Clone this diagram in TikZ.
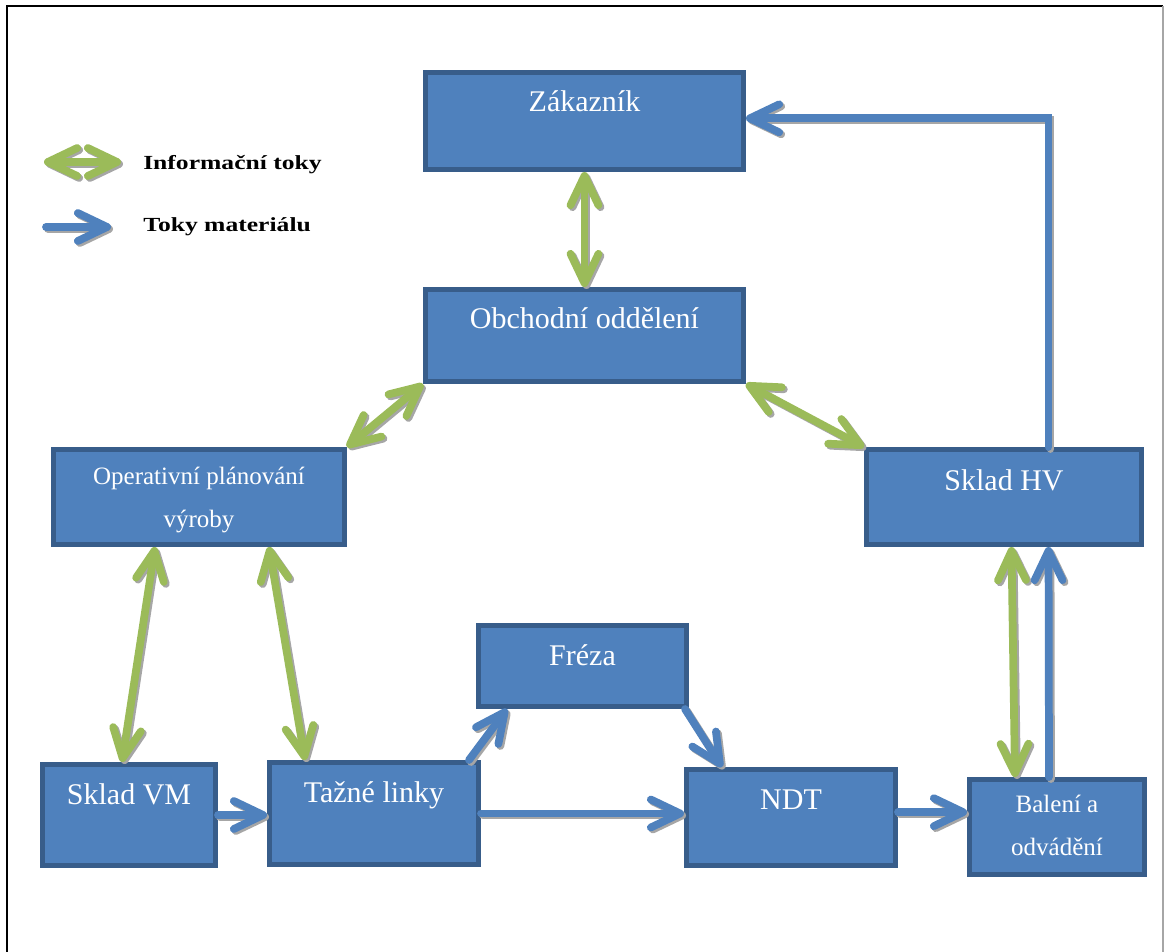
\documentclass[tikz,border=0pt]{standalone}
\usepackage{fontspec}
\setmainfont{Liberation Serif}
\usepackage{graphicx}
\usetikzlibrary{arrows.meta,fit}

\definecolor{boxblue}{HTML}{4F81BD}
\definecolor{boxedge}{HTML}{385D8A}
\definecolor{infogreen}{HTML}{9BBB59}
\definecolor{flowshade}{HTML}{A6A6A6}

\tikzset{
  >={Straight Barb[length=22pt, width=21pt, round]},
  unitbox/.style={rectangle, fill=boxblue, draw=boxedge, line width=3.6pt, inner sep=-1.8pt},
  boxlabel/.style={text=white, font=\fontsize{22.5pt}{32pt}\selectfont, inner sep=0pt, anchor=base, align=center},
  smalllabel/.style={boxlabel, font=\fontsize{18.75pt}{32pt}\selectfont},
  keytext/.style={text=black, font=\fontsize{15pt}{17pt}\selectfont\bfseries, inner sep=0pt, anchor=base west},
  flowline/.style={line width=5.8pt, line cap=round},
  info/.style={flowline, draw=infogreen, <->},
  material/.style={flowline, draw=boxblue, ->},
  shade copy/.style={draw=flowshade, transform canvas={shift={(2,2)}}},
}
% every flow is drawn twice: a grey drop shadow, then the coloured arrow
\newcommand\flowpath[2]{\draw[#1, shade copy] #2; \draw[#1] #2;}

\begin{document}
\begin{tikzpicture}[x=0.75pt, y=-0.75pt]
\useasboundingbox (0,0) rectangle (1164,952);

% page frame
\draw[black, line width=1.5pt] (7,952) -- (7,6) -- (1163,6);
\draw[flowshade, line width=1pt] (1163,6) -- (1163,952);

% units
\node[unitbox, fit={(423,70) (746,172)}]   (zak)   {};
\node[unitbox, fit={(423,287) (746,384)}]  (obch)  {};
\node[unitbox, fit={(51,447) (347,547)}]   (oper)  {};
\node[unitbox, fit={(864,447) (1144,547)}] (skhv)  {};
\node[unitbox, fit={(476,623) (689,709)}]  (freza) {};
\node[unitbox, fit={(40,762) (218,868)}]   (sklvm) {};
\node[unitbox, fit={(267,760) (481,867)}]  (tazne) {};
\node[unitbox, fit={(684,767) (898,868)}]  (ndt)   {};
\node[unitbox, fit={(967,777) (1147,877)}] (balen) {};

% unit captions (two-line captions sit on the baseline of their last line)
\node[boxlabel]   (zak-t)   at (584.5,112) {Zákazník};
\node[boxlabel]   (obch-t)  at (584.5,329) {Obchodní oddělení};
\node[smalllabel] (oper-t)  at (199,527)   {Operativní plánování\\výroby};
\node[boxlabel]   (skhv-t)  at (1004,490)  {Sklad HV};
\node[boxlabel]   (freza-t) at (582.5,665) {Fréza};
\node[boxlabel]   (sklvm-t) at (129,804)   {Sklad VM};
\node[boxlabel]   (tazne-t) at (374,802)   {Tažné linky};
\node[boxlabel]   (ndt-t)   at (791,809)   {NDT};
\node[smalllabel] (balen-t) at (1057,855)  {Balení a\\odvádění};

% information flows
\flowpath{info}{(zak.south) -- (obch.north)}
\flowpath{info}{(obch.south west) -- (oper.north east)}
\flowpath{info}{(obch.south east) -- (skhv.north west)}
\flowpath{info}{([xshift=-33pt]oper.south) -- ([xshift=-5.25pt]sklvm.north)}
\flowpath{info}{([xshift=52.5pt]oper.south) -- ([xshift=-51.75pt]tazne.north)}
\flowpath{info}{([xshift=5.6pt]skhv.south) -- ([xshift=-31.5pt]balen.north)}

% material flows
\coordinate (ndt-out) at ([yshift=4pt]ndt.east);
\flowpath{material}{(sklvm.east) -- (sklvm.east -| tazne.west)}
\flowpath{material}{(tazne.east) -- (tazne.east -| ndt.west)}
\flowpath{material}{([xshift=-9pt]tazne.north east) -- ([xshift=23.25pt]freza.south west)}
\flowpath{material}{([xshift=-3pt]freza.south east) -- ([xshift=28.5pt]ndt.north west)}
\flowpath{material}{(ndt-out) -- (ndt-out -| balen.west)}
\flowpath{material}{([xshift=-6pt]balen.north) -- ([xshift=33.4pt]skhv.south)}
\flowpath{material}{([xshift=33.4pt]skhv.north) |- ([yshift=2pt]zak.east)}

% key
\coordinate (keyinfo-a) at (44,162);
\coordinate (keyinfo-b) at (121,162);
\coordinate (keymat-a)  at (46,227);
\coordinate (keymat-b)  at (111,227);
\flowpath{info}{(keyinfo-a) -- (keyinfo-b)}
\flowpath{material}{(keymat-a) -- (keymat-b)}
\node[keytext] (keyinfo-t) at (143,170) {\scalebox{1.28}[1]{Informační toky}};
\node[keytext] (keymat-t)  at (143,232) {\scalebox{1.28}[1]{Toky materiálu}};
\end{tikzpicture}
\end{document}
